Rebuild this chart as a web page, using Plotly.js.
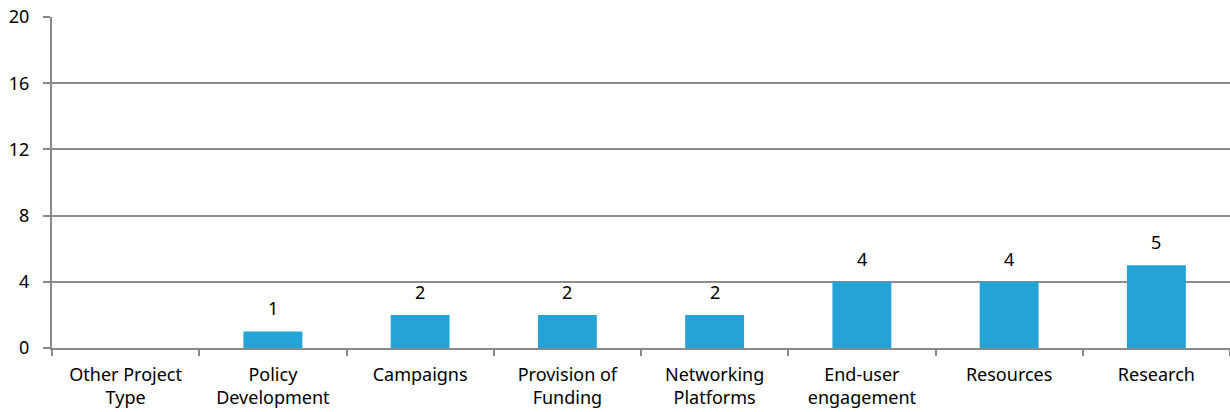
<!DOCTYPE html>
<html>
<head>
<meta charset="utf-8">
<script src="https://cdn.plot.ly/plotly-3.0.1.min.js"></script>
<style>html,body{margin:0;padding:0;background:#fff;}#chart{width:1230px;height:412px;}</style>
</head>
<body>
<div id="chart"></div>
<script>
const categories = ["Other Project<br>Type", "Policy<br>Development", "Campaigns", "Provision of<br>Funding", "Networking<br>Platforms", "End-user<br>engagement", "Resources", "Research"];
const values = [0, 1, 2, 2, 2, 4, 4, 5];
const yTicks = [0, 4, 8, 12, 16, 20];

const FONT = "Noto Sans, sans-serif";

const trace = {
  type: "bar",
  x: categories,
  y: values,
  marker: {color: "#23A3D6"},
  hoverinfo: "x+y"
};

const annotations = categories.map((c, i) => values[i] > 0 ? {
  x: c, y: values[i], xref: "x", yref: "y",
  text: String(values[i]), showarrow: false,
  yanchor: "bottom", yshift: 9,
  font: {family: FONT, size: 18, color: "#000"}
} : null).filter(a => a);

const layout = {
  width: 1230, height: 412,
  margin: {l: 52, r: 0, t: 17, b: 64},
  paper_bgcolor: "#fff", plot_bgcolor: "#fff",
  bargap: 0.6,
  showlegend: false,
  font: {family: FONT, size: 18, color: "#000"},
  annotations: annotations,
  xaxis: {
    type: "category",
    showgrid: false,
    showline: true, linecolor: "#898989", linewidth: 2,
    ticks: "outside", tickson: "boundaries", ticklen: 6, tickcolor: "#898989", tickwidth: 2,
    tickfont: {family: FONT, size: 18, color: "#000"},
    ticklabelstandoff: 9,
    zeroline: false
  },
  yaxis: {
    range: [0, 20],
    tickvals: yTicks,
    ticktext: yTicks.map(String),
    showgrid: true, gridcolor: "#8c8c8c", gridwidth: 2,
    showline: true, linecolor: "#898989", linewidth: 2,
    ticks: "outside", ticklen: 7, tickcolor: "#898989", tickwidth: 2,
    tickfont: {family: FONT, size: 18, color: "#000"},
    ticklabelstandoff: 10,
    zeroline: false,
    fixedrange: true
  }
};

Plotly.newPlot("chart", [trace], layout, {displayModeBar: false, staticPlot: true});
</script>
</body>
</html>
